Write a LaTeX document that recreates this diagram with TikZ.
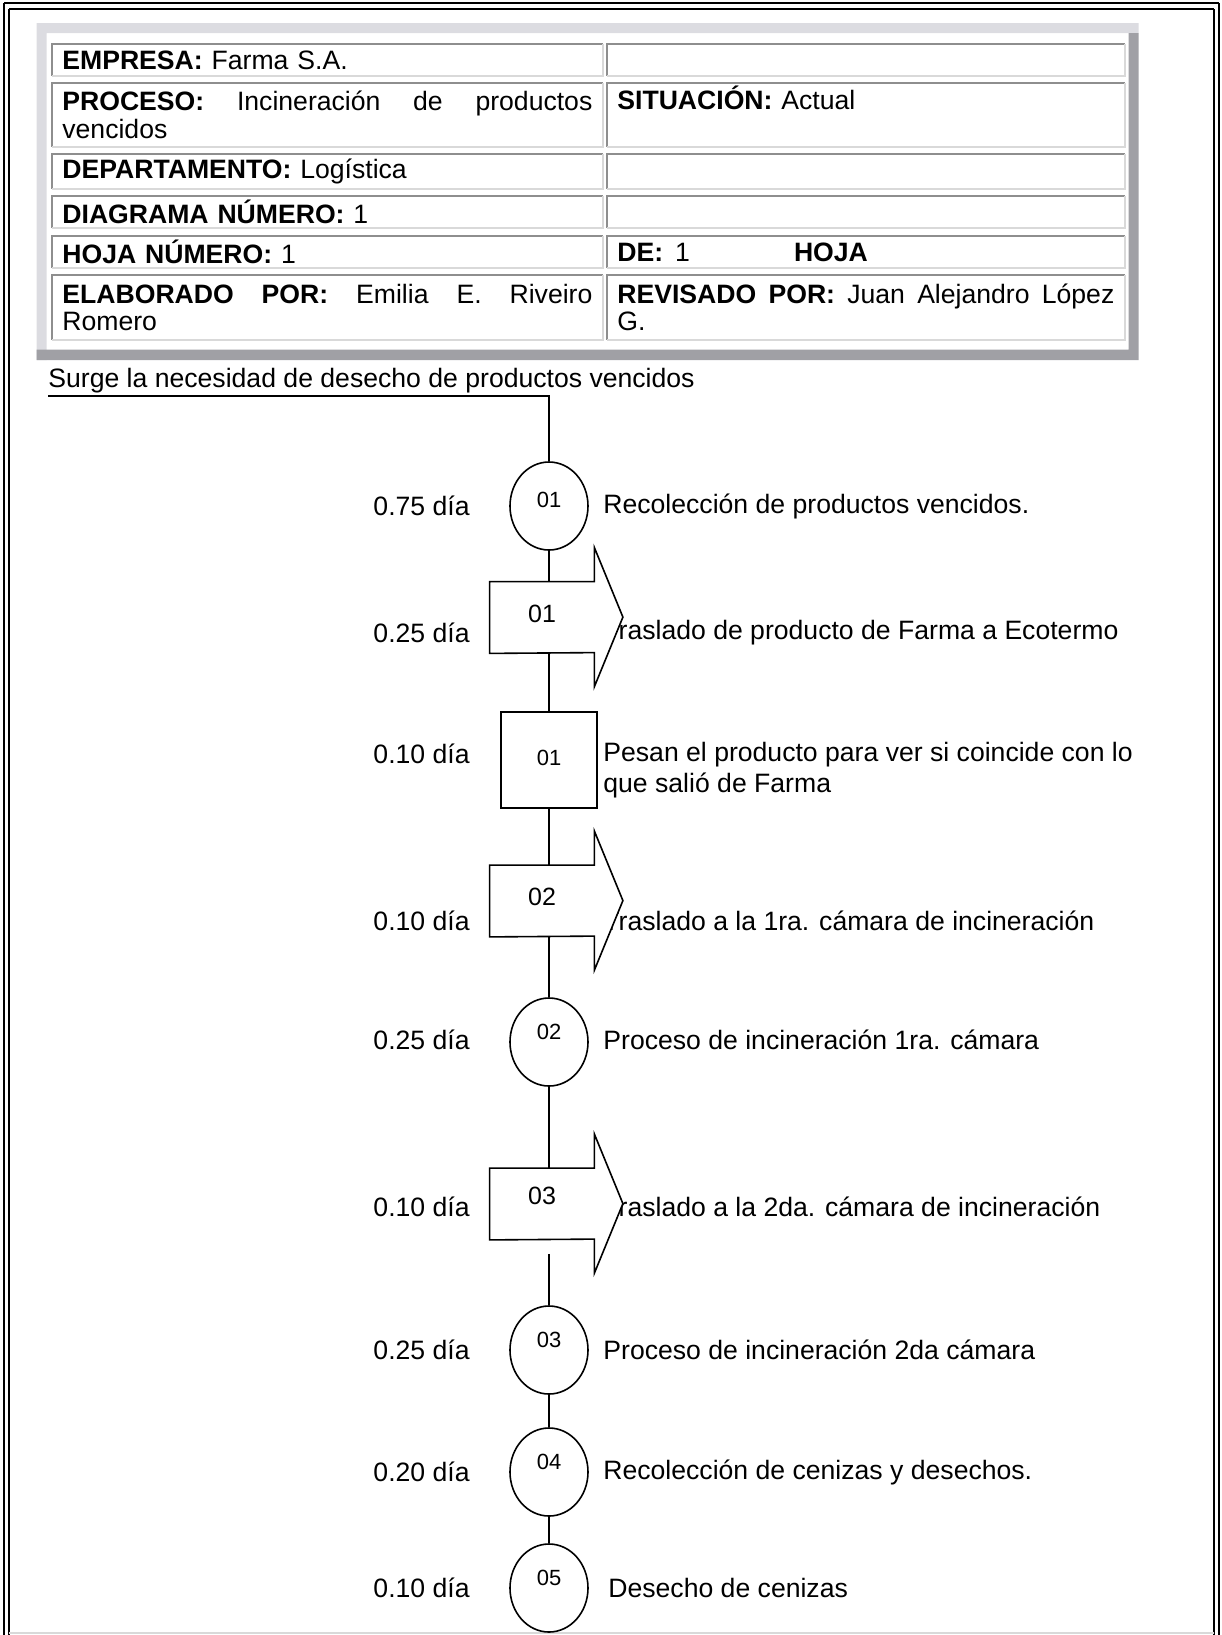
\documentclass[tikz,border=0pt]{standalone}
\usepackage{fontspec}
\setmainfont{Liberation Sans}
\usetikzlibrary{shapes.geometric,positioning,calc}
\definecolor{bandlight}{HTML}{DCDCE1}
\definecolor{banddark}{HTML}{A0A0A5}
\definecolor{celldark}{HTML}{8E8E8E}
\definecolor{celllight}{HTML}{D9D9D9}

\begin{document}
\begin{tikzpicture}[x=0.5pt,y=-0.5pt,
  every node/.style={font=\fontsize{13.3}{15.4}\selectfont},
  cell/.style={anchor=north west,inner xsep=5pt,inner ysep=0pt,align=left,
    font=\fontsize{13.3}{13.6}\selectfont},
  lcell/.style={cell,minimum width=275pt,text width=265pt},
  rcell/.style={cell,minimum width=258.5pt,text width=248.5pt},
  op/.style={ellipse,draw,line width=0.8pt,minimum width=39pt,minimum height=44pt,inner sep=0pt},
  insp/.style={rectangle,draw,line width=0.8pt,minimum width=48pt,minimum height=48pt,inner sep=0pt},
  shaft/.style={rectangle,minimum width=52pt,minimum height=35.5pt,inner sep=0pt},
  num/.style={font=\fontsize{11}{13}\selectfont},
  trnum/.style={font=\fontsize{12.5}{14}\selectfont},
  time/.style={anchor=east,inner sep=0pt},
  desc/.style={anchor=west,align=left,inner sep=0pt},
  lk/.style={line width=0.8pt}]
\useasboundingbox (0,0) rectangle (1222,1635);
% page frame
\draw[line width=1.3pt] (4,3) -- (1219,3);
\draw[line width=0.8pt] (9,9) -- (1214,9);
\draw[line width=1.1pt] (4,3) -- (4,1635) (1219,3) -- (1219,1635);
\draw[line width=0.8pt] (9,9) -- (9,1635) (1214,9) -- (1214,1635);
\draw[celllight,line width=0.6pt] (9,1633) -- (1214,1633);
% table frame
\fill[bandlight] (36.5,23) rectangle (1138.5,33) (36.5,23) rectangle (46.5,360);
\fill[banddark] (1128.5,33) rectangle (1138.5,360) (36.5,349.5) rectangle (1138.5,360);
% table cells
\node[lcell,minimum height=15.5pt] (e1) at (52,44) {\textbf{EMPRESA:} Farma S.A.};
\node[rcell,minimum height=15.5pt] (e2) at (607,44) {};
\node[lcell,minimum height=31.5pt] (p1) at (52,83)
  {\textbf{PROCESO:}\hfill Incineración\hfill de\hfill productos\\vencidos};
\node[rcell,minimum height=31.5pt] (p2) at (607,83) {\textbf{SITUACIÓN:} Actual\\\strut};
\node[lcell,minimum height=17pt] (d1) at (52,154) {\textbf{DEPARTAMENTO:} Logística};
\node[rcell,minimum height=17pt] (d2) at (607,154) {};
\node[lcell,minimum height=15.5pt] (n1) at (52,196) {\textbf{DIAGRAMA NÚMERO:} 1};
\node[rcell,minimum height=15.5pt] (n2) at (607,196) {};
\node[lcell,minimum height=15.5pt] (h1) at (52,236) {\textbf{HOJA NÚMERO:} 1};
\node[rcell,minimum height=15.5pt] (h2) at (607,236)
  {\textbf{DE:}\hspace{6pt}1\hspace{52pt}\textbf{HOJA}};
\node[lcell,minimum height=32pt] (r1) at (52,275)
  {\textbf{ELABORADO\hfill POR:}\hfill Emilia\hfill E.\hfill Riveiro\\Romero};
\node[rcell,minimum height=32pt] (r2) at (607,275)
  {\textbf{REVISADO\hfill POR:}\hfill Juan\hfill Alejandro\hfill López\\G.};
\foreach \c in {e1,e2,p1,p2,d1,d2,n1,n2,h1,h2,r1,r2} {
  \draw[celldark,line width=0.9pt] (\c.south west) |- (\c.north east);
  \draw[celllight,line width=0.9pt] (\c.north east) |- (\c.south west);
}
% start of the process
\node[anchor=base west,inner sep=0pt] (st) at (48,387) {Surge la necesidad de desecho de productos vencidos};
% descriptions (drawn first, the arrows cover them)
\node[desc] (x1) at (603,506) {Recolección de productos vencidos.};
\node[desc] (x2) at (603,633) {Traslado de producto de Farma a Ecotermo};
\node[desc] (x3) at (603,770) {Pesan el producto para ver si coincide con lo\\que salió de Farma};
\node[desc] (x4) at (603,921) {Traslado a la 1ra. cámara de incineración};
\node[desc] (x5) at (603,1040) {Proceso de incineración 1ra. cámara};
\node[desc] (x6) at (603,1207) {Traslado a la 2da. cámara de incineración};
\node[desc] (x7) at (603,1350) {Proceso de incineración 2da cámara};
\node[desc] (x8) at (603,1472) {Recolección de cenizas y desechos.};
\node[desc] (x9) at (608,1588) {Desecho de cenizas};
% times
\node[time] (d1t) at (470,506) {0.75 día};
\node[time] (d2t) at (470,633) {0.25 día};
\node[time] (d3t) at (470,754) {0.10 día};
\node[time] (d4t) at (470,921) {0.10 día};
\node[time] (d5t) at (470,1040) {0.25 día};
\node[time] (d6t) at (470,1207) {0.10 día};
\node[time] (d7t) at (470,1350) {0.25 día};
\node[time] (d8t) at (470,1472) {0.20 día};
\node[time] (d9t) at (470,1588) {0.10 día};
% operations, inspection, transports
\node[op,label={[num,yshift=3pt]center:01}] (op1) at (549,506) {};
\node[shaft] (tr1) at (542,617.5) {};
\node[insp,label={[num,yshift=1pt]center:01}] (insp1) at (549,760) {};
\node[shaft] (tr2) at (542,901) {};
\node[op,label={[num,yshift=5pt]center:02}] (op2) at (549,1042) {};
\node[shaft] (tr3) at (542,1204) {};
\node[op,label={[num,yshift=5pt]center:03}] (op3) at (549,1350) {};
\node[op,label={[num,yshift=5pt]center:04}] (op4) at (549,1472) {};
\node[op,label={[num,yshift=5pt]center:05}] (op5) at (549,1588) {};
\foreach \n in {tr1,tr2,tr3}
  \draw[lk,fill=white] (\n.north west) -- (\n.north east) -- ++(0,-34) -- ++(28.5,69.5)
    -- ++(-28.5,69.5) -- ++(0,-34) -- (\n.south west) -- cycle;
\node[trnum] (l1) at ([yshift=2pt]tr1.center) {01};
\node[trnum] (l2) at ([yshift=2pt]tr2.center) {02};
\node[trnum] (l3) at ([yshift=4pt]tr3.center) {03};
% connectors
\draw[lk] ([yshift=-1.5pt]st.south west) -| (op1.north);
\draw[lk] (op1.south) -- (op1.south |- tr1.north);
\draw[lk] (op1.south |- tr1.south) -- (insp1.north);
\draw[lk] (insp1.south) -- (insp1.south |- tr2.north);
\draw[lk] (insp1.south |- tr2.south) -- (op2.north);
\draw[lk] (op2.south) -- (op2.south |- tr3.north);
\draw[lk,shorten <=7pt] (op2.south |- tr3.south) -- (op3.north);
\draw[lk] (op3.south) -- (op4.north);
\draw[lk] (op4.south) -- (op5.north);
\end{tikzpicture}
\end{document}
